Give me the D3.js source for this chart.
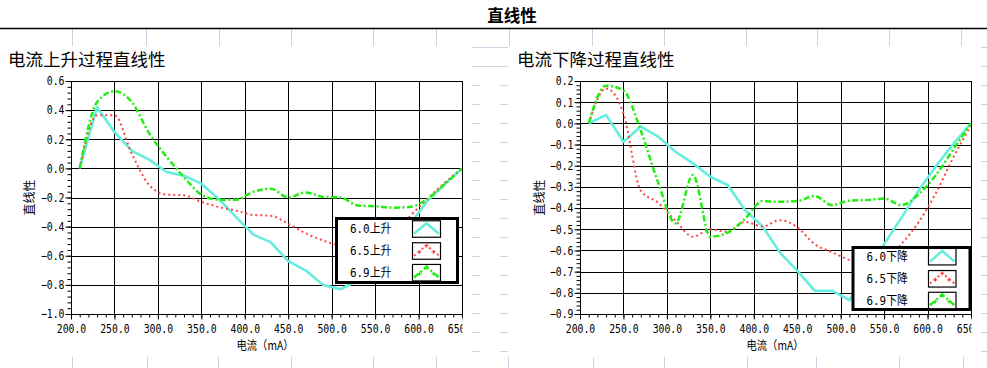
<!DOCTYPE html>
<html><head><meta charset="utf-8">
<script src="https://cdn.jsdelivr.net/npm/d3@7"></script>
<style>
html,body{margin:0;padding:0;background:#fff;}
svg{display:block;}
</style></head><body>
<svg id="chart" width="987" height="368"></svg>
<script>
// ---------------- DATA ----------------
const currents = [210,230,250,270,290,310,330,350,370,390,410,430,450,470,490,510,530,550,570,590,610,630,650];

const upNames = ["6.0上升","6.5上升","6.9上升"];
const up60 = [0,0.42,0.25,0.12,0.06,-0.025,-0.05,-0.105,-0.21,-0.335,-0.455,-0.508,-0.637,-0.70,-0.80,-0.83,-0.77,-0.67,-0.53,-0.385,-0.225,-0.11,0];
const up65 = [0,0.365,0.365,0.10,-0.115,-0.18,-0.185,-0.23,-0.265,-0.29,-0.32,-0.325,-0.38,-0.445,-0.495,-0.535,-0.58,-0.56,-0.46,-0.33,-0.21,-0.10,0];
const up69 = [0,0.455,0.53,0.455,0.24,0.08,-0.06,-0.18,-0.215,-0.215,-0.16,-0.14,-0.20,-0.165,-0.195,-0.20,-0.255,-0.26,-0.27,-0.265,-0.21,-0.11,0];

const downNames = ["6.0下降","6.5下降","6.9下降"];
const down60 = [0,0.04,-0.087,-0.015,-0.063,-0.134,-0.189,-0.252,-0.291,-0.41,-0.485,-0.61,-0.695,-0.79,-0.79,-0.835,-0.70,-0.57,-0.445,-0.315,-0.20,-0.095,0];
const down65 = [0,0.165,0.047,-0.318,-0.375,-0.46,-0.535,-0.50,-0.512,-0.465,-0.487,-0.457,-0.49,-0.57,-0.608,-0.645,-0.67,-0.66,-0.57,-0.465,-0.326,-0.158,-0.01];
const down69 = [0,0.178,0.155,-0.035,-0.28,-0.472,-0.244,-0.535,-0.516,-0.45,-0.367,-0.37,-0.367,-0.343,-0.386,-0.365,-0.362,-0.355,-0.386,-0.334,-0.242,-0.121,0];

const xTickValues = [200,250,300,350,400,450,500,550,600,650];
const upYTicks = [0.6,0.4,0.2,0.0,-0.2,-0.4,-0.6,-0.8,-1.0];
const downYTicks = [0.2,0.1,0.0,-0.1,-0.2,-0.3,-0.4,-0.5,-0.6,-0.7,-0.8,-0.9];

const mainTitle = "直线性";
const upTitle = "电流上升过程直线性";
const downTitle = "电流下降过程直线性";
const yLabel = "直线性";
const xLabel = "电流（mA）";

// ---------------- STYLE ----------------
const seriesStyles = [
  {color:"#66eedd", width:2.6, dash:null, curve:d3.curveLinear},
  {color:"#ff4545", width:2, dash:"2,3", curve:d3.curveMonotoneX},
  {color:"#22ee11", width:2.5, dash:"6,2.5,2,2.5", curve:d3.curveMonotoneX}
];
const decoColor = "#c9d3e3";
const cjk = "'Noto Sans CJK SC','Noto Sans CJK JP',sans-serif";
const mono = "'DejaVu Sans Mono','Liberation Mono',monospace";

const svg = d3.select("#chart");
const defs = svg.append("defs");
const px = v => Math.round(v) + 0.5;

// ---------------- background decoration ----------------
const deco = svg.append("g").attr("stroke",decoColor).attr("stroke-width",1).attr("shape-rendering","crispEdges");
[72,146,219,291,373,436,509,592,664,746,817,889,961].forEach(xx=>{
  deco.append("line").attr("x1",xx+0.5).attr("x2",xx+0.5).attr("y1",29).attr("y2",46);
});
[72,147,218,291,373,436,508,593,664,747,816,899,963].forEach(xx=>{
  deco.append("line").attr("x1",xx+0.5).attr("x2",xx+0.5).attr("y1",357).attr("y2",368);
});
[47.5,66.5].forEach(yy=>{
  deco.append("line").attr("x1",472).attr("x2",508).attr("y1",yy).attr("y2",yy);
  deco.append("line").attr("x1",981).attr("x2",987).attr("y1",yy).attr("y2",yy);
});
for(let k=0;k<15;k++){
  const yy = 85.5 + k*19;
  deco.append("line").attr("x1",472).attr("x2",480).attr("y1",yy).attr("y2",yy);
  deco.append("line").attr("x1",500).attr("x2",508).attr("y1",yy).attr("y2",yy);
  deco.append("line").attr("x1",981).attr("x2",987).attr("y1",yy).attr("y2",yy);
}

// ---------------- main title ----------------
svg.append("text").attr("x",512).attr("y",15).attr("text-anchor","middle")
  .attr("dominant-baseline","central")
  .style("font-family",cjk).style("font-size","16.5px").style("font-weight","bold")
  .text(mainTitle);
svg.append("line").attr("x1",0).attr("x2",987).attr("y1",28.5).attr("y2",28.5)
  .attr("stroke","#000").attr("stroke-width",1.5);

function fixTickText(sel){
  sel.selectAll("text")
    .attr("font-family",null).attr("font-size",null)
    .style("font-family",mono).style("font-size","12px").style("fill","#000")
    .attr("lengthAdjust","spacingAndGlyphs")
    .attr("textLength",function(){return this.textContent.length*5.9;});
}

function drawPanel(p){
  const x = d3.scaleLinear().domain([200,650]).range([p.left,p.right]);
  const y = d3.scaleLinear().domain(p.yDomain).range([p.bottom,p.top]);
  const g = svg.append("g");

  g.append("text").attr("x",p.titleX).attr("y",58).attr("dominant-baseline","central")
    .style("font-family",cjk).style("font-size","17.5px").text(p.title);

  // grid
  const grid = g.append("g").attr("stroke","#000").attr("stroke-width",1);
  grid.selectAll("line.v").data(xTickValues).join("line").attr("class","v")
    .attr("x1",d=>px(x(d))).attr("x2",d=>px(x(d))).attr("y1",px(p.top)).attr("y2",px(p.bottom));
  grid.selectAll("line.h").data(p.yTicks).join("line").attr("class","h")
    .attr("x1",px(p.left)).attr("x2",px(p.right)).attr("y1",d=>px(y(d))).attr("y2",d=>px(y(d)));

  // series
  p.series.forEach((vals,i)=>{
    const st = seriesStyles[i];
    const line = d3.line().x((d,j)=>x(currents[j])).y(d=>y(d)).curve(st.curve);
    g.append("path").datum(vals).attr("d",line).attr("fill","none")
      .attr("stroke",st.color).attr("stroke-width",st.width)
      .attr("stroke-dasharray",st.dash).attr("stroke-linejoin","round");
  });

  // frame
  g.append("rect").attr("x",px(p.left)).attr("y",px(p.top)).attr("width",Math.round(p.right-p.left)).attr("height",Math.round(p.bottom-p.top))
    .attr("fill","none").attr("stroke","#000").attr("stroke-width",1);

  // x axis
  const clipId = "clip"+p.id;
  defs.append("clipPath").attr("id",clipId).append("rect")
    .attr("x",p.left-60).attr("y",-2).attr("width",p.right-p.left+60.5).attr("height",40);
  const xMinor = d3.range(0,46).map(i=>200+i*10);
  g.append("g").attr("transform",`translate(0,${p.bottom+0.5})`)
    .call(d3.axisBottom(x).tickValues(xMinor).tickSize(3).tickFormat(""))
    .call(a=>a.select(".domain").remove());
  g.append("g").attr("transform",`translate(0,${p.bottom+0.5})`).attr("clip-path",`url(#${clipId})`)
    .call(d3.axisBottom(x).tickValues(xTickValues).tickSize(5).tickPadding(5).tickFormat(d3.format(".1f")))
    .call(a=>a.select(".domain").remove())
    .call(fixTickText);

  // y axis
  const [ymin,ymax] = p.yDomain;
  const nMinor = Math.round((ymax-ymin)/p.minorStep);
  const yMinor = d3.range(0,nMinor+1).map(i=>+(ymin+i*p.minorStep).toFixed(4));
  g.append("g").attr("transform",`translate(${p.left+0.5},0)`)
    .call(d3.axisLeft(y).tickValues(yMinor).tickSize(4).tickFormat(""))
    .call(a=>a.select(".domain").remove());
  g.append("g").attr("transform",`translate(${p.left+0.5},0)`)
    .call(d3.axisLeft(y).tickValues(p.yTicks).tickSize(6).tickPadding(1).tickFormat(d3.format(".1f")))
    .call(a=>a.select(".domain").remove())
    .call(fixTickText);

  // axis titles
  g.append("text").attr("transform",`translate(${p.yLabelX},${(p.top+p.bottom)/2}) rotate(-90)`)
    .attr("text-anchor","middle").attr("dominant-baseline","central")
    .style("font-family",cjk).style("font-size","12px").style("fill","#000").text(yLabel);
  g.append("text").attr("x",p.xLabelX).attr("y",344).attr("text-anchor","middle").attr("dominant-baseline","central")
    .style("font-family",cjk).style("font-size","12px")
    .attr("textLength",57).attr("lengthAdjust","spacingAndGlyphs").text(xLabel);

  // legend
  const L = p.legend;
  const lg = g.append("g");
  lg.append("rect").attr("x",L.x).attr("y",L.y).attr("width",L.w).attr("height",L.h)
    .attr("fill","#fff").attr("stroke","#000").attr("stroke-width",3);
  p.names.forEach((nm,i)=>{
    const st = seriesStyles[i];
    const cy = L.rowY[i];
    lg.append("text").attr("x",L.textX).attr("y",cy).attr("dominant-baseline","central")
      .style("font-family",mono+","+cjk).style("font-size","12px")
      .attr("textLength",41.5).attr("lengthAdjust","spacingAndGlyphs").text(nm);
    const sx = L.swX, sw = L.swW, sh = L.swH, sy = cy - sh/2;
    lg.append("rect").attr("x",sx).attr("y",sy).attr("width",sw).attr("height",sh)
      .attr("fill","#fff").attr("stroke","#000").attr("stroke-width",1.2);
    const pts = [[sx+1.5,sy+sh-3.5],[sx+sw/2,sy+2.5],[sx+sw-1.5,sy+sh-3.5]];
    lg.append("path").attr("d",d3.line()(pts)).attr("fill","none")
      .attr("stroke",st.color).attr("stroke-width",st.width).attr("stroke-dasharray",st.dash);
    if(i>0){
      [[0.25,0.5],[0.5,0.18],[0.75,0.5]].forEach(([fx,fy])=>{
        const mx = sx+sw*fx, my = sy+sh*fy+ (fx===0.5?0:1);
        lg.append("path").attr("d",`M${mx-2},${my}H${mx+2}M${mx},${my-2}V${my+2}`)
          .attr("stroke",st.color).attr("stroke-width",1.2);
      });
    }
  });
}

drawPanel({
  id:"up", left:71, right:462, top:81, bottom:314, yDomain:[-1.0,0.6], yTicks:upYTicks, minorStep:0.04,
  title:upTitle, titleX:8, yLabelX:28, xLabelX:265, names:upNames, series:[up60,up65,up69],
  legend:{x:336.5,y:218.5,w:121,h:64,textX:350,rowY:[229,251,272.7],swX:412.5,swW:28,swH:16.5}
});
drawPanel({
  id:"down", left:580, right:971, top:81, bottom:314, yDomain:[-0.9,0.2], yTicks:downYTicks, minorStep:0.02,
  title:downTitle, titleX:517, yLabelX:538, xLabelX:775, names:downNames, series:[down60,down65,down69],
  legend:{x:853,y:247.5,w:117,h:62,textX:866.5,rowY:[256.7,278.8,300.5],swX:928.5,swW:27.5,swH:16.5}
});
</script>
</body></html>
